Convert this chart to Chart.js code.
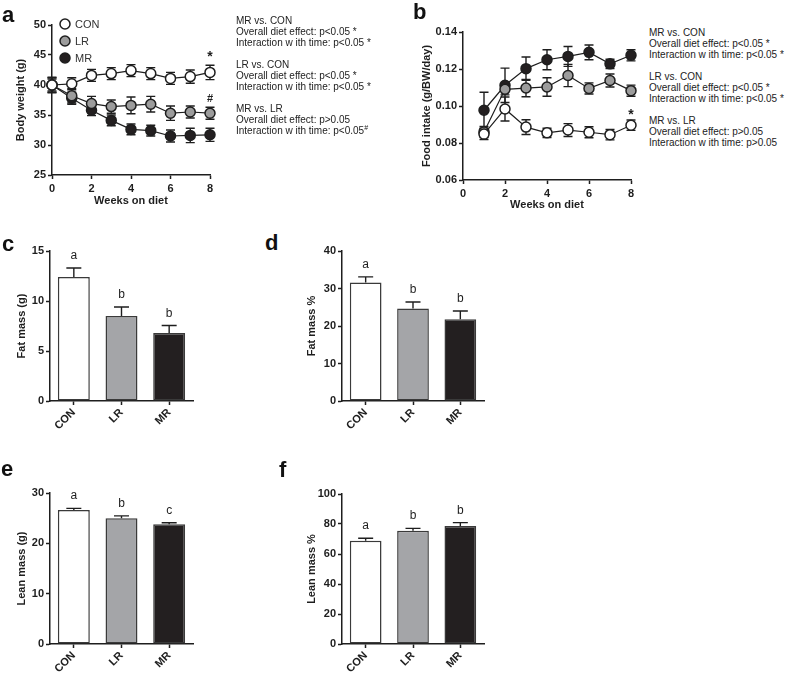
<!DOCTYPE html>
<html>
<head>
<meta charset="utf-8">
<script src="https://cdn.jsdelivr.net/npm/chart.js@4.4.1/dist/chart.umd.min.js"></script>
<style>
  body { margin: 0; background: #fff; }
  #fig { position: relative; width: 787px; height: 674px; background: #fff; overflow: hidden;
         font-family: 'Liberation Sans', Arial, sans-serif; color: #222; }
  #fig canvas { position: absolute; }
  .tag { position: absolute; font-weight: bold; font-size: 22px; line-height: 22px; color: #111; }
  .stats { position: absolute; font-size: 10px; line-height: 11px; white-space: nowrap; color: #222; }
  .stats p { margin: 0 0 11px 0; }
  .stats sup { font-size: 7px; line-height: 0; }
</style>
</head>
<body>
<div id="fig">
  <canvas id="cA" width="230" height="210" style="left:0;top:0"></canvas>
  <canvas id="cB" width="230" height="212" style="left:410px;top:0"></canvas>
  <canvas id="cC" width="210" height="235" style="left:0;top:220px"></canvas>
  <canvas id="cD" width="220" height="235" style="left:280px;top:220px"></canvas>
  <canvas id="cE" width="210" height="214" style="left:0;top:460px"></canvas>
  <canvas id="cF" width="220" height="214" style="left:280px;top:460px"></canvas>

  <div class="tag" style="left:2px;top:4px">a</div>
  <div class="tag" style="left:413px;top:1px">b</div>
  <div class="tag" style="left:2px;top:233px">c</div>
  <div class="tag" style="left:265px;top:232px">d</div>
  <div class="tag" style="left:1px;top:458px">e</div>
  <div class="tag" style="left:279px;top:459px">f</div>

  <div class="stats" style="left:236px;top:15px">
    <p>MR vs. CON<br>Overall diet effect: p&lt;0.05 *<br>Interaction w ith time: p&lt;0.05 *</p>
    <p>LR vs. CON<br>Overall diet effect: p&lt;0.05 *<br>Interaction w ith time: p&lt;0.05 *</p>
    <p>MR vs. LR<br>Overall diet effect: p&gt;0.05<br>Interaction w ith time: p&lt;0.05<sup>#</sup></p>
  </div>
  <div class="stats" style="left:649px;top:27px">
    <p>MR vs. CON<br>Overall diet effect: p&lt;0.05 *<br>Interaction w ith time: p&lt;0.05 *</p>
    <p>LR vs. CON<br>Overall diet effect: p&lt;0.05 *<br>Interaction w ith time: p&lt;0.05 *</p>
    <p>MR vs. LR<br>Overall diet effect: p&gt;0.05<br>Interaction w ith time: p&gt;0.05</p>
  </div>
</div>
<script>
// body weight (panel a)
const weeksA   = [0, 1, 2, 3, 4, 5, 6, 7, 8];
const bwCON    = [40.0, 40.2, 41.6, 41.9, 42.4, 41.9, 41.1, 41.4, 42.1];
const bwCONerr = [1.3, 1.0, 1.0, 1.0, 1.0, 1.0, 1.0, 1.1, 1.2];
const bwLR     = [40.0, 38.2, 36.9, 36.4, 36.6, 36.8, 35.3, 35.5, 35.3];
const bwLRerr  = [1.2, 1.2, 1.2, 1.1, 1.4, 1.3, 1.2, 1.0, 1.0];
const bwMR     = [40.0, 37.8, 35.8, 34.1, 32.6, 32.4, 31.5, 31.6, 31.7];
const bwMRerr  = [1.0, 1.0, 0.9, 0.9, 0.9, 0.9, 1.0, 1.2, 1.1];

// food intake (panel b)
const weeksB   = [1, 2, 3, 4, 5, 6, 7, 8];
const fiCON    = [0.0848, 0.0984, 0.0886, 0.0855, 0.0870, 0.0858, 0.0845, 0.0896];
const fiCONerr = [0.0030, 0.0065, 0.0040, 0.0025, 0.0035, 0.0030, 0.0028, 0.0028];
const fiLR     = [0.0860, 0.1090, 0.1097, 0.1103, 0.1165, 0.1095, 0.1138, 0.1083];
const fiLRerr  = [0.0030, 0.0030, 0.0047, 0.0050, 0.0060, 0.0030, 0.0035, 0.0030];
const fiMR     = [0.0977, 0.1112, 0.1202, 0.1250, 0.1268, 0.1290, 0.1228, 0.1274];
const fiMRerr  = [0.0097, 0.0093, 0.0063, 0.0054, 0.0054, 0.0040, 0.0025, 0.0030];

// body composition (panels c-f)
const groups      = ['CON', 'LR', 'MR'];
const fatMass     = [12.4, 8.5, 6.8];
const fatMassErr  = [0.9, 0.9, 0.75];
const fatMassSig  = ['a', 'b', 'b'];
const fatPct      = [31.6, 24.7, 21.8];
const fatPctErr   = [1.5, 1.7, 2.2];
const fatPctSig   = ['a', 'b', 'b'];
const leanMass    = [26.6, 25.0, 23.8];
const leanMassErr = [0.35, 0.45, 0.3];
const leanMassSig = ['a', 'b', 'c'];
const leanPct     = [68.9, 75.5, 78.7];
const leanPctErr  = [1.6, 1.6, 2.2];
const leanPctSig  = ['a', 'b', 'b'];

const FONT = "'Liberation Sans', Arial, sans-serif";
const INK = '#1e1e1e';
const colCON = '#ffffff', colLR = '#a4a5a8', colMR = '#231f20';
Chart.defaults.font.family = FONT;
Chart.defaults.color = INK;

// error bars: symmetric behind the markers for lines, upward on top of bars
const errorBars = {
  id: 'errorBars',
  draw(chart, upOnly) {
    const ctx = chart.ctx, ys = chart.scales.y;
    const cap = chart.options.plugins.errorBars.cap;
    chart.data.datasets.forEach((ds, i) => {
      if (!ds.errors) return;
      const meta = chart.getDatasetMeta(i);
      ctx.save();
      ctx.strokeStyle = INK;
      ctx.lineWidth = 1.4;
      meta.data.forEach((el, j) => {
        const v = meta.controller.getParsed(j).y, e = ds.errors[j];
        const x = el.x, top = ys.getPixelForValue(v + e);
        const bot = upOnly ? ys.getPixelForValue(v) : ys.getPixelForValue(v - e);
        ctx.beginPath();
        ctx.moveTo(x, top); ctx.lineTo(x, bot);
        ctx.moveTo(x - cap, top); ctx.lineTo(x + cap, top);
        if (!upOnly) { ctx.moveTo(x - cap, bot); ctx.lineTo(x + cap, bot); }
        ctx.stroke();
      });
      ctx.restore();
    });
  },
  beforeDatasetsDraw(chart) { if (chart.config.type === 'line') this.draw(chart, false); },
  afterDatasetsDraw(chart) {
    if (chart.config.type !== 'bar') return;
    this.draw(chart, true);
    // significance letters above the error bars
    const ctx = chart.ctx, ys = chart.scales.y;
    const ds = chart.data.datasets[0], meta = chart.getDatasetMeta(0);
    ctx.save();
    ctx.font = '12px ' + FONT;
    ctx.fillStyle = INK;
    ctx.textAlign = 'center';
    meta.data.forEach((el, j) => {
      ctx.fillText(ds.letters[j], el.x, ys.getPixelForValue(ds.data[j] + ds.errors[j]) - 9);
    });
    ctx.restore();
  }
};

// star / hash marks above a chosen point
const pointMarks = {
  id: 'pointMarks',
  afterDatasetsDraw(chart, args, opts) {
    if (!opts.items) return;
    const ctx = chart.ctx, ys = chart.scales.y;
    ctx.save();
    ctx.fillStyle = INK;
    ctx.textAlign = 'center';
    opts.items.forEach(m => {
      const ds = chart.data.datasets[m.ds], meta = chart.getDatasetMeta(m.ds);
      const el = meta.data[m.idx];
      const v = meta.controller.getParsed(m.idx).y + ds.errors[m.idx];
      ctx.font = 'bold ' + m.size + 'px ' + FONT;
      ctx.fillText(m.text, el.x, ys.getPixelForValue(v) - m.dy);
    });
    ctx.restore();
  }
};

// legend drawn as a column inside the plot of panel a
const sideLegend = {
  id: 'sideLegend',
  afterDraw(chart, args, opts) {
    if (!opts.show) return;
    const ctx = chart.ctx, a = chart.chartArea;
    ctx.save();
    chart.data.datasets.forEach((ds, i) => {
      const x = a.left + 13, y = a.top - 1 + i * 17;
      ctx.beginPath();
      ctx.arc(x, y, 5, 0, Math.PI * 2);
      ctx.fillStyle = ds.backgroundColor;
      ctx.fill();
      ctx.lineWidth = 1.5;
      ctx.strokeStyle = INK;
      ctx.stroke();
      ctx.fillStyle = '#333';
      ctx.font = '11px ' + FONT;
      ctx.textBaseline = 'middle';
      ctx.fillText(ds.label, x + 10, y + 0.5);
    });
    ctx.restore();
  }
};

Chart.register(errorBars, pointMarks, sideLegend);

function axis(extra) {
  const o = {
    grid: { drawOnChartArea: false, tickLength: 4, tickColor: INK, tickWidth: 1.5, offset: false },
    border: { color: INK, width: 1.5 },
    ticks: { color: INK, font: { size: 11, weight: 'bold' }, padding: 2 },
    title: { display: false, color: INK, font: { size: 11, weight: 'bold' } }
  };
  return Object.assign(o, extra);
}

function lineSet(label, xs, ys, errs, fill) {
  return {
    label: label,
    data: xs.map((x, i) => ({ x: x, y: ys[i] })),
    errors: errs,
    backgroundColor: fill,
    borderColor: INK,
    borderWidth: 1.2,
    pointRadius: 5,
    pointBorderWidth: 1.5,
    pointBorderColor: INK,
    pointBackgroundColor: fill,
    clip: false
  };
}

function lineChart(id, sets, yOpt, xOpt, pad, yWidth, xHeight, yTitlePad, marks, legend) {
  new Chart(document.getElementById(id), {
    type: 'line',
    data: { datasets: sets },
    options: {
      responsive: false, animation: false, devicePixelRatio: 1,
      layout: { padding: pad },
      plugins: {
        legend: { display: false }, tooltip: { enabled: false },
        errorBars: { cap: 4.5 },
        pointMarks: { items: marks },
        sideLegend: { show: legend }
      },
      scales: {
        x: axis({ type: 'linear', min: 0, max: 8,
          ticks: { stepSize: 2, color: INK, font: { size: 11, weight: 'bold' }, padding: 3 },
          title: { display: true, text: 'Weeks on diet', color: INK, font: { size: 11, weight: 'bold' }, padding: { top: 0, bottom: xOpt.titlePad } },
          afterFit: s => { s.height = xHeight; } }),
        y: axis({ min: yOpt.min, max: yOpt.max,
          ticks: { stepSize: yOpt.step, color: INK, font: { size: 11, weight: 'bold' }, padding: 2,
                   callback: v => yOpt.fmt(v) },
          title: { display: true, text: yOpt.title, color: INK, font: { size: 11, weight: 'bold' }, padding: { top: yTitlePad, bottom: 0 } },
          afterFit: s => { s.width = yWidth; } })
      }
    }
  });
}

lineChart('cA', [
    lineSet('CON', weeksA, bwCON, bwCONerr, colCON),
    lineSet('LR', weeksA, bwLR, bwLRerr, '#9c9c9c'),
    lineSet('MR', weeksA, bwMR, bwMRerr, colMR)
  ],
  { min: 25, max: 50, step: 5, title: 'Body weight (g)', fmt: v => v },
  { titlePad: 2 }, { top: 25, right: 20, left: 0, bottom: 0 }, 52, 35, 14,
  [{ ds: 0, idx: 8, text: '*', size: 14, dy: 4 }, { ds: 1, idx: 8, text: '#', size: 11, dy: 5 }], true);

lineChart('cB', [
    lineSet('CON', weeksB, fiCON, fiCONerr, colCON),
    lineSet('LR', weeksB, fiLR, fiLRerr, '#9c9c9c'),
    lineSet('MR', weeksB, fiMR, fiMRerr, colMR)
  ],
  { min: 0.06, max: 0.14, step: 0.02, title: 'Food intake (g/BW/day)', fmt: v => v.toFixed(2) },
  { titlePad: 0 }, { top: 32, right: 9, left: 0, bottom: 0 }, 53, 32, 10,
  [{ ds: 0, idx: 7, text: '*', size: 14, dy: 1 }], false);

function barChart(id, vals, errs, sig, yOpt, pad, yWidth, xHeight, yTitlePad) {
  new Chart(document.getElementById(id), {
    type: 'bar',
    data: {
      labels: groups,
      datasets: [{
        data: vals, errors: errs, letters: sig,
        backgroundColor: [colCON, colLR, colMR],
        borderColor: '#3a3a3a', borderWidth: 1.5, borderSkipped: false,
        barPercentage: 0.67, categoryPercentage: 1
      }]
    },
    options: {
      responsive: false, animation: false, devicePixelRatio: 1,
      layout: { padding: pad },
      plugins: { legend: { display: false }, tooltip: { enabled: false }, errorBars: { cap: 7.5 } },
      scales: {
        x: axis({ ticks: { color: INK, font: { size: 11, weight: 'bold' }, padding: 1, minRotation: 45, maxRotation: 45 },
          afterFit: s => { s.height = xHeight; } }),
        y: axis({ min: 0, max: yOpt.max,
          ticks: { stepSize: yOpt.step, color: INK, font: { size: 11, weight: 'bold' }, padding: 2 },
          title: { display: true, text: yOpt.title, color: INK, font: { size: 11, weight: 'bold' }, padding: { top: yTitlePad, bottom: 0 } },
          afterFit: s => { s.width = yWidth; } })
      }
    }
  });
}

barChart('cC', fatMass, fatMassErr, fatMassSig, { max: 15, step: 5, title: 'Fat mass (g)' },
  { top: 31, right: 17, left: 0, bottom: 0 }, 50, 54, 15);
barChart('cD', fatPct, fatPctErr, fatPctSig, { max: 40, step: 10, title: 'Fat mass %' },
  { top: 31, right: 16, left: 0, bottom: 0 }, 62, 54, 25);
barChart('cE', leanMass, leanMassErr, leanMassSig, { max: 30, step: 10, title: 'Lean mass (g)' },
  { top: 33, right: 17, left: 0, bottom: 0 }, 50, 30, 15);
barChart('cF', leanPct, leanPctErr, leanPctSig, { max: 100, step: 20, title: 'Lean mass %' },
  { top: 34, right: 16, left: 0, bottom: 0 }, 62, 30, 25);
</script>
</body>
</html>
